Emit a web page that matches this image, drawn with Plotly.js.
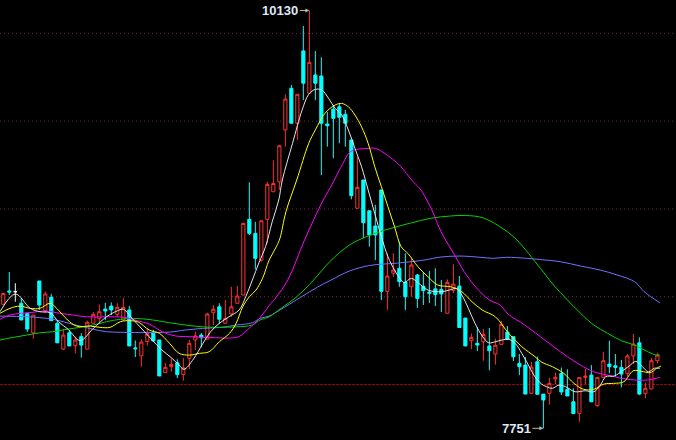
<!DOCTYPE html>
<html>
<head>
<meta charset="utf-8">
<script src="https://cdn.plot.ly/plotly-3.0.1.min.js"></script>
<style>
html,body{margin:0;padding:0;background:#000;}
#chart{width:676px;height:440px;}
</style>
</head>
<body>
<div id="chart"></div>
<script>
// Daily candles (price units), index 0..109
const openP  = [8457,8533,8529,8463,8406,8295,8590,8422,8497,8349,8202,8295,8221,8273,8202,8349,8377,8430,8447,8400,
                8368,8425,8209,8164,8245,8295,8254,8068,8102,8124,8058,8150,8254,8282,8259,8409,8443,8349,8402,8463,
                8510,8941,8861,8709,8941,9098,9155,9450,9687,9488,9900,9659,9763,9757,9484,9568,9582,9539,9393,9004,
                9165,8990,8903,9108,8531,8634,8662,8584,8557,8624,8560,8527,8545,8542,8406,8537,8561,8379,8250,8235,
                8244,8220,8174,8229,8299,8273,8121,8111,7950,8130,7946,7950,8032,8063,7973,7902,7836,8041,8054,7880,
                8041,8117,8107,8098,8064,8163,8238,7950,7975,8136];
const highP  = [8523,8641,8577,8493,8406,8396,8590,8529,8517,8368,8316,8311,8273,8292,8364,8413,8457,8466,8468,8463,
                8493,8447,8251,8259,8320,8311,8254,8123,8151,8144,8151,8254,8301,8294,8409,8453,8463,8482,8557,8561,
                8922,9152,8927,8933,9155,9277,9364,9653,9706,9653,10042,10130,9900,9864,9552,9592,9602,9564,9393,9298,
                9165,8990,9023,9108,8748,8748,8814,8748,8719,8630,8641,8647,8662,8595,8599,8685,8618,8379,8291,8328,
                8316,8322,8262,8362,8333,8273,8174,8157,8128,8159,7946,8038,8068,8097,8087,7979,8041,8090,8111,8041,
                8187,8250,8174,8140,8174,8288,8269,8011,8151,8181];
const lowP   = [8457,8510,8472,8368,8299,8262,8425,8408,8364,8238,8197,8220,8178,8153,8202,8349,8349,8368,8396,8386,
                8368,8220,8157,8102,8222,8248,8049,8068,8073,8037,8022,8087,8197,8212,8259,8339,8345,8349,8386,8463,
                8510,8852,8656,8700,8804,9098,9108,9355,9488,9393,9620,9659,9620,9193,9355,9289,9374,9355,9055,9004,
                8833,8785,8709,8482,8425,8614,8557,8425,8500,8436,8453,8464,8447,8413,8406,8521,8325,8220,8202,8191,
                8136,8081,8114,8229,8257,8134,8054,7946,7946,7945,7751,7886,8003,7941,7935,7835,7788,8003,7901,7874,
                8041,8064,8045,7984,8045,8117,7941,7922,7975,8121];
const closeP = [8519,8527,8529,8368,8316,8396,8453,8516,8364,8238,8282,8220,8254,8225,8355,8400,8415,8419,8425,8440,
                8440,8220,8204,8242,8288,8248,8049,8098,8115,8057,8095,8235,8277,8267,8402,8429,8372,8377,8443,8504,
                8918,8861,8719,8933,9140,9145,9360,9626,9488,9653,9716,9835,9716,9488,9474,9516,9522,9488,9076,9123,
                8922,8852,8852,8531,8618,8652,8586,8500,8681,8491,8535,8520,8512,8516,8582,8572,8325,8220,8269,8225,
                8286,8193,8224,8343,8257,8159,8102,7946,8100,7945,7912,8007,8041,7958,7935,7835,8041,8049,7902,8041,
                8136,8102,8098,8060,8163,8231,7946,7979,8136,8168];

// Moving averages (x = candle index)
const ma5X = [-0.55,2,4.5,6.1,7.8,9.2,10.8,12.8,15,17.2,19.2,20,21.7,22.8,24.8,26.3,28,29.3,30.1,31.7,33.2,34.5,36,37.6,39.3,40.4,41.5,42.6,43.7,44.8,45.9,46.5,48.2,49.8,50.9,52,53.1,54.2,55.3,56.4,57.5,58.6,59.7,60.8,61.9,63,64.1,65.2,66.3,66.8,68,69.2,70.8,73,74.7,75.5,76.4,77.5,78.6,79.8,80.9,82,83.1,84.2,85.3,86.4,87.5,88.6,89.7,90.5,91.5,92.6,93.7,95.3,97,98.4,99.5,100.4,101.8,103.2,104.3,105.4,106.5,107.5,108.5,109.4];
const ma5Y = [8415,8516,8434,8415,8409,8358,8315,8251,8320,8386,8423,8429,8368,8328,8254,8201,8153,8111,8087,8146,8231,8299,8349,8386,8425,8500,8595,8694,8785,8926,9051,9165,9374,9564,9653,9681,9677,9630,9573,9535,9450,9345,9241,9108,8975,8842,8728,8652,8595,8580,8605,8577,8538,8529,8542,8548,8510,8434,8349,8277,8238,8244,8254,8258,8235,8178,8111,8045,8003,7988,7979,7997,7988,7959,7965,7959,7997,8045,8049,8079,8106,8132,8102,8073,8093,8093];

const ma10X = [-0.55,1.1,2.8,4.5,6.1,7.8,8.9,10.6,12.2,14.5,16.1,17.8,19.5,21.1,22.5,24.3,26,27.7,29.3,31,32.7,34.3,36,37.7,38.8,39.9,41,42.1,43.2,44.3,45.5,46.1,47.1,48.9,50.9,52,53.6,55.3,56.4,57.5,58.6,59.7,60.8,61.9,63,64.1,65.2,66.3,67.5,69.1,70.8,72.4,74.7,76.4,78.1,79.8,82,84.2,86.4,88.6,89.7,91.5,93.4,95.1,96.7,98.4,100.1,101.7,103.4,105,106.7,107.8,108.9,109.6];
const ma10Y = [8406,8434,8447,8434,8434,8463,8434,8372,8333,8333,8326,8326,8358,8364,8356,8311,8292,8235,8178,8168,8178,8187,8244,8292,8349,8443,8500,8538,8605,8709,8785,8833,8984,9165,9374,9450,9545,9592,9601,9582,9535,9468,9374,9241,9127,9013,8899,8785,8744,8671,8613,8567,8556,8529,8472,8425,8386,8292,8216,8159,8128,8102,8064,8007,7973,7973,8003,8007,8016,8079,8073,8068,8093,8106];

const ma20X = [-0.55,1.1,5,7.2,9.4,11.7,13.9,18.3,20.5,22.5,24.3,26.5,28.7,31,35.4,37.7,39.3,41,42.7,44.3,45.5,47.4,50.2,52.9,55,56.6,57.7,58.9,60.5,62,63.7,66,68.3,69.6,71.8,72.5,73.5,75.1,76.8,78.7,81,82.8,84.1,86.9,89.5,91.7,94,96.2,98.4,100.7,103,105.2,107.4,109.4];
const ma20Y = [8372,8396,8412,8419,8406,8396,8386,8386,8381,8362,8345,8301,8277,8273,8267,8265,8274,8322,8377,8450,8499,8595,8823,9023,9154,9260,9322,9340,9344,9345,9313,9250,9155,9108,8966,8903,8835,8744,8643,8556,8482,8453,8402,8339,8273,8216,8159,8111,8073,8054,8036,8026,8026,8041];

const ma30X = [-0.55,1.7,3.9,6.1,8.3,10.6,12.8,15,17.2,19.5,21.7,24.9,27.7,30.4,33.2,36,38.8,41.5,42.8,44.3,46.1,48.9,51.7,54.4,57.7,61.2,64.6,67.9,71.2,74.5,77,80,83.6,85.6,89.5,91.7,94,96.2,98.4,100.7,103,105.2,107.4,108.8,109.4];
const ma30Y = [8254,8269,8282,8295,8301,8315,8326,8339,8358,8372,8377,8368,8352,8339,8329,8326,8329,8339,8368,8386,8430,8500,8595,8700,8795,8852,8890,8920,8947,8960,8963,8949,8880,8823,8662,8567,8482,8406,8339,8292,8250,8225,8187,8168,8168];

const ma60X = [-0.55,3.9,6.1,8.3,10.6,12.8,15,17.2,19.5,22.8,27.7,30.4,33.2,36,38.8,41.5,42.8,44.3,46.1,49.5,52.4,54.6,57.7,61,65.7,70.1,72.8,76.1,79.4,81.7,83.9,87.2,89.5,92.8,96.2,99.5,102.3,105.2,106.8,109.4];
const ma60Y = [8390,8386,8381,8372,8352,8333,8315,8301,8298,8296,8299,8311,8320,8325,8339,8352,8377,8390,8425,8496,8556,8595,8647,8678,8692,8709,8726,8732,8725,8719,8725,8719,8712,8700,8675,8652,8624,8586,8529,8466];

const gridLevels = [8500, 9000, 9500, 10000];
const baseLevel = 8000;
const highLabel = {idx: 51, price: 10130, text: '10130'};
const lowLabel  = {idx: 90, price: 7751, text: '7751'};

const idx = openP.map((_, i) => i);
const isFlat = i => openP[i] === closeP[i];
const main = idx.filter(i => !isFlat(i));
const flat = idx.filter(i => isFlat(i));
const pick = (arr, sel) => sel.map(i => arr[i]);

const UP = '#ff3232', DOWN = '#00ffff';

const traces = [
  {type:'scatter', mode:'lines', x:ma60X, y:ma60Y, line:{color:'#7272ff', width:1, shape:'spline'}, hoverinfo:'skip'},
  {type:'scatter', mode:'lines', x:ma30X, y:ma30Y, line:{color:'#00d200', width:1, shape:'spline'}, hoverinfo:'skip'},
  {type:'scatter', mode:'lines', x:ma20X, y:ma20Y, line:{color:'#ff00ff', width:1, shape:'spline'}, hoverinfo:'skip'},
  {type:'candlestick', x:pick(idx, main), open:pick(openP, main), high:pick(highP, main), low:pick(lowP, main), close:pick(closeP, main),
   increasing:{line:{color:UP, width:1}, fillcolor:'#000000'},
   decreasing:{line:{color:DOWN, width:1}, fillcolor:DOWN},
   whiskerwidth:0, hoverinfo:'skip'},
  {type:'candlestick', x:pick(idx, flat), open:pick(openP, flat), high:pick(highP, flat), low:pick(lowP, flat), close:pick(closeP, flat),
   increasing:{line:{color:'#ffffff', width:1}, fillcolor:'#ffffff'},
   decreasing:{line:{color:'#ffffff', width:1}, fillcolor:'#ffffff'},
   whiskerwidth:0, hoverinfo:'skip'},
  {type:'scatter', mode:'lines', x:ma10X, y:ma10Y, line:{color:'#ffff00', width:1, shape:'spline'}, hoverinfo:'skip'},
  {type:'scatter', mode:'lines', x:ma5X, y:ma5Y, line:{color:'#e6e6e6', width:1, shape:'spline'}, hoverinfo:'skip'}
];

const shapes = gridLevels.map(v => ({type:'line', xref:'paper', x0:0, x1:1, yref:'y', y0:v, y1:v,
  line:{color:'#6e3434', width:1, dash:'1px,3px'}, layer:'below'}));
shapes.push({type:'line', xref:'paper', x0:0, x1:1, yref:'y', y0:baseLevel, y1:baseLevel,
  line:{color:'#9a0a0a', width:1, dash:'3px,1px'}, layer:'below'});

const annFont = {family:'Liberation Sans, Arial, sans-serif', size:13, color:'#dfe8f5'};
const annotations = [
  {x:highLabel.idx, y:highLabel.price, xref:'x', yref:'y', text:'<b>'+highLabel.text+'</b>', showarrow:true,
   ax:-29, ay:0, arrowhead:2, arrowsize:0.8, arrowwidth:1, arrowcolor:'#b8b8b8', standoff:0, font:annFont},
  {x:lowLabel.idx, y:lowLabel.price, xref:'x', yref:'y', text:'<b>'+lowLabel.text+'</b>', showarrow:true,
   ax:-27, ay:0, arrowhead:2, arrowsize:0.8, arrowwidth:1, arrowcolor:'#b8b8b8', standoff:0, font:annFont}
];

const layout = {
  width:676, height:440,
  margin:{l:0, r:0, t:0, b:0, pad:0},
  paper_bgcolor:'#000000', plot_bgcolor:'#000000',
  showlegend:false,
  boxgap:0.25,
  xaxis:{range:[-0.55, 112.1], visible:false, showgrid:false, zeroline:false, rangeslider:{visible:false}, fixedrange:true},
  yaxis:{range:[7684.5, 10190], visible:false, showgrid:false, zeroline:false, fixedrange:true},
  shapes:shapes,
  annotations:annotations,
  hovermode:false
};

Plotly.newPlot('chart', traces, layout, {staticPlot:true, displayModeBar:false});
</script>
</body>
</html>
